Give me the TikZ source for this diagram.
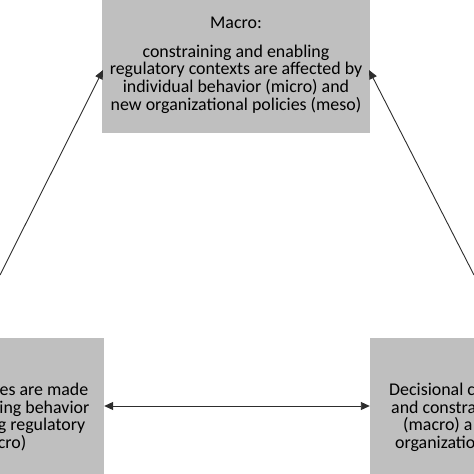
\documentclass[tikz,border=0pt]{standalone}
\usepackage{fontspec}
\setmainfont{Carlito}
\usetikzlibrary{arrows.meta}
\definecolor{boxgray}{RGB}{191,191,191}
\definecolor{linegray}{RGB}{45,45,45}
\tikzset{
  box/.style={fill=boxgray, draw=none, inner sep=0pt},
  txt/.style={font=\fontsize{17.9}{17.7}\selectfont, inner sep=0pt, text=black},
  tip/.style={},
  conn/.style={draw=linegray, line width=0.9pt, -{Triangle[length=9pt,width=8pt]}},
  conn2/.style={draw=linegray, line width=0.9pt, {Triangle[length=9pt,width=8pt]}-{Triangle[length=9pt,width=8pt]}}
}
\begin{document}
\begin{tikzpicture}[x=1pt,y=-1pt]
\useasboundingbox (0,0) rectangle (474,474);
% boxes
\node[box, minimum width=268pt, minimum height=133pt] (macro) at (236,66.5) {};
\node[box, minimum width=124pt, minimum height=136pt] (micro) at (42,406) {};
\node[box, minimum width=124pt, minimum height=136pt] (meso) at (432,406) {};
% macro text
\node[txt, anchor=base] (macrohead) at (236,28) {Macro:};
\node[txt, anchor=base] (mline1) at (236,57) {constraining and enabling};
\node[txt, anchor=base] (mline2) at (236,74.5) {regulatory contexts are affected by};
\node[txt, anchor=base] (mline3) at (236,92) {individual behavior (micro) and};
\node[txt, anchor=base] (mline4) at (236,110) {new organizational policies (meso)};
% micro fragments
\node[txt, anchor=base east] (m1) at (88.5,395) {es are made};
\node[txt, anchor=base east] (m2) at (89.5,413) {ing behavior};
\node[txt, anchor=base east] (m3) at (85.5,430.5) {g regulatory};
\node[txt, anchor=base east] (m4) at (26.5,448) {cro)};
% meso fragments
\node[txt, anchor=base west] (r1) at (389,395) {Decisional c};
\node[txt, anchor=base west] (r2) at (391,413) {and constra};
\node[txt, anchor=base west] (r3) at (403,430.5) {(macro) a};
\node[txt, anchor=base west] (r4) at (395,448) {organizatio};
% connectors
\coordinate (lfree) at (0,275);
\coordinate (rfree) at (474,275);
\coordinate (mtl) at (103,70);
\coordinate (mtr) at (369,70);
\draw[conn] (lfree) -- (mtl);
\draw[conn] (rfree) -- (mtr);
\draw[conn2] (micro.east |- 0,406) -- (meso.west |- 0,406);
\end{tikzpicture}
\end{document}
